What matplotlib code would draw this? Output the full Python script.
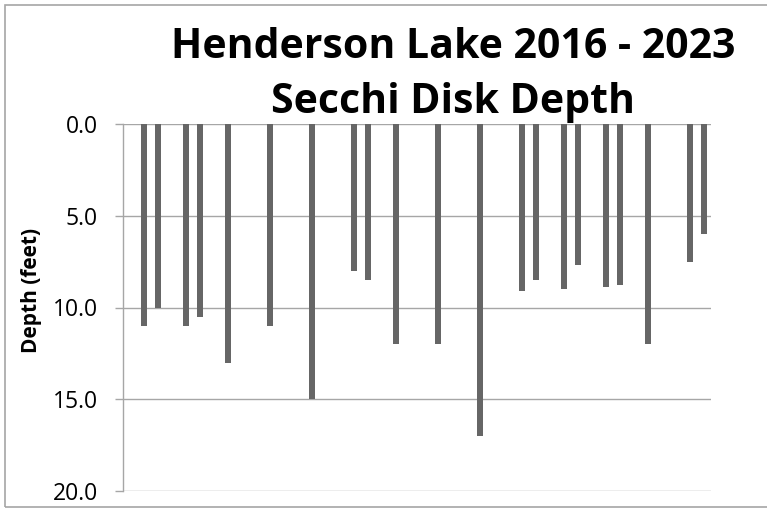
import numpy as np
import matplotlib
matplotlib.use('Agg')
import matplotlib.pyplot as plt
from matplotlib.patches import Rectangle

plt.rcParams['font.family'] = ['Open Sans', 'DejaVu Sans']

# sampling slots along the category axis (42 slots, empty ones have no reading)
N_SLOTS = 42
sample_slots = [1, 2, 4, 5, 7, 10, 13, 16, 17, 19, 22,
                25, 28, 29, 31, 32, 34, 35, 37, 40, 41]
depth_ft = [11.0, 10.0, 11.0, 10.5, 13.0, 11.0, 15.0, 8.0, 8.5, 12.0, 12.0,
            17.0, 9.1, 8.5, 9.0, 7.7, 8.9, 8.8, 12.0, 7.5, 6.0]
y_ticks = [0, 5, 10, 15, 20]

title_lines = ['Henderson Lake 2016 - 2023', 'Secchi Disk Depth']
y_label = 'Depth (feet)'

W, H = 767, 508
fig = plt.figure(figsize=(W / 100, H / 100), dpi=100)
ax = fig.add_axes([123 / W, 1 - 491 / H, (711 - 123) / W, (491 - 124) / H])

values = np.full(N_SLOTS, np.nan)
values[sample_slots] = depth_ft
ax.bar(np.arange(N_SLOTS), values, width=0.36, color='#666666', zorder=2)

ax.set_xlim(-0.5, N_SLOTS - 0.5)
ax.set_ylim(20, 0)
ax.set_yticks(y_ticks)
ax.set_yticklabels(['{:.1f}'.format(v) for v in y_ticks])
ax.set_xticks([])
ax.yaxis.grid(True, color='#a6a6a6', linewidth=1.0, zorder=0)
ax.set_axisbelow(True)
ax.tick_params(axis='y', length=6, width=1, color='#a6a6a6', pad=12,
               labelsize=16.5, labelcolor='black')
for side in ['top', 'right', 'bottom']:
    ax.spines[side].set_visible(False)
ax.spines['left'].set_color('#a6a6a6')
ax.spines['left'].set_linewidth(1.0)

fig.text(32 / W, 1 - 290 / H, y_label, rotation=90, ha='center', va='center',
         fontsize=15, fontweight='bold')

fig.text(453 / W, 1 - 58 / H, title_lines[0], ha='center', va='baseline',
         fontsize=29.5, fontweight='bold')
fig.text(453 / W, 1 - 113 / H, title_lines[1], ha='center', va='baseline',
         fontsize=29.5, fontweight='bold')

# outer chart frame
fig.patches.append(Rectangle((4.5 / W, 1.5 / H), 2, (H - 6) / H,
                             transform=fig.transFigure, fill=False,
                             edgecolor='#a6a6a6', linewidth=1.2))

fig.savefig('out.png', dpi=100)
